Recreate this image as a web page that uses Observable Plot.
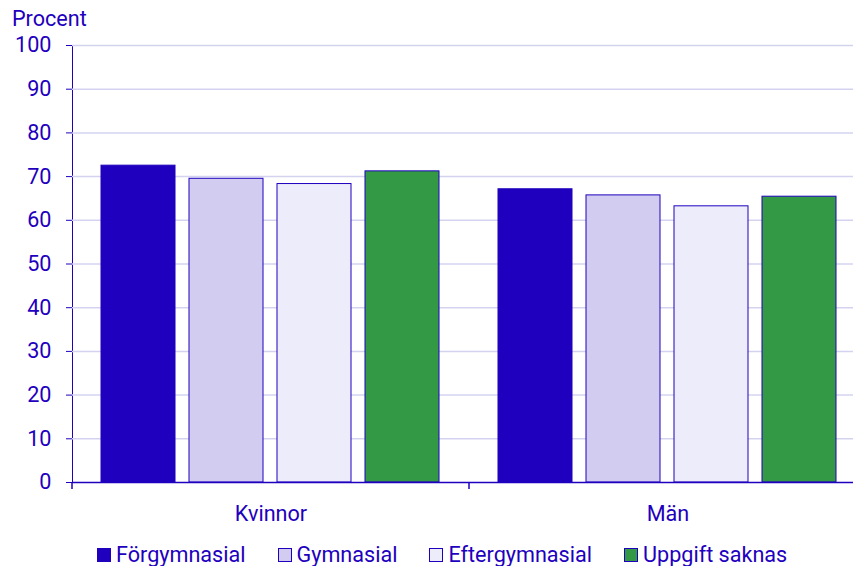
<!DOCTYPE html>
<html><head><meta charset="utf-8">
<script src="https://cdn.jsdelivr.net/npm/d3@7"></script>
<script src="https://cdn.jsdelivr.net/npm/@observablehq/plot@0.6"></script>
<style>
html,body{margin:0;padding:0;background:#fff;overflow:hidden}
#wrap{position:relative;width:853px;height:566px;overflow:hidden;font-family:Roboto,sans-serif;color:#1e00be;background:#fff}
#chart{position:absolute;left:0;top:0}
#ylab{position:absolute;left:12px;top:7px;font-size:21.6px;line-height:24px}
#legend{position:absolute;left:97px;top:545px;display:flex;font-size:21.6px;line-height:20px;white-space:nowrap}
.item{display:flex;align-items:center;margin-right:32px}
.sw{width:12px;height:12px;border:1px solid #1e00be;margin-right:5px;box-sizing:content-box}
</style>
</head><body>
<div id="wrap">
  <div id="chart"></div>
  <div id="ylab">Procent</div>
  <div id="legend"></div>
</div>
<script>
const groups = ["Kvinnor", "Män"];
const categories = ["Förgymnasial", "Gymnasial", "Eftergymnasial", "Uppgift saknas"];
const kvinnor = [72.5, 69.5, 68.3, 71.2];
const man = [67.1, 65.7, 63.2, 65.4];
const colors = ["#1e00be", "#d2cdf0", "#ececfb", "#339944"];
const yTicks = [0, 10, 20, 30, 40, 50, 60, 70, 80, 90, 100];

const ink = "#1e00be";
const rows = [];
[kvinnor, man].forEach((vals, gi) => vals.forEach((v, ci) => rows.push({group: groups[gi], category: categories[ci], value: v})));

const plot = Plot.plot({
  width: 866,
  height: 530,
  marginLeft: 71,
  marginRight: 0,
  marginTop: 45,
  marginBottom: 48,
  style: {fontFamily: "Roboto, sans-serif", fontSize: "21.6px", color: ink, background: "white", overflow: "visible", maxWidth: "none"},
  facet: {data: rows, x: "group", marginRight: 0, marginBottom: 48, marginTop: 45, marginLeft: 71},
  fx: {domain: groups, padding: 0, label: null, axis: "bottom", tickSize: 0, tickPadding: 23},
  x: {domain: categories, paddingInner: 0.157, paddingOuter: 0.31, axis: null},
  y: {domain: [0, 100], ticks: yTicks, tickSize: 6, tickPadding: 15, label: null, line: true},
  color: {domain: categories, range: colors},
  marks: [
    Plot.ruleY(yTicks.slice(1), {stroke: "#d3d3f0", strokeWidth: 1.5}),
    Plot.barY(rows, {x: "category", y: "value", fill: "category", stroke: ink, strokeWidth: 1}),
    Plot.ruleY([0], {stroke: ink, strokeWidth: 1.5})
  ]
});
plot.style.maxWidth = "none";
document.getElementById("chart").appendChild(plot);

// boundary ticks on the category axis, placed with the facet scale
const fx = plot.scale("fx");
const ys = plot.scale("y");
const y0 = ys.apply(0);
const edges = fx.domain.map(d => fx.apply(d));
edges.push(fx.apply(fx.domain[fx.domain.length - 1]) + fx.bandwidth);
d3.select(plot).append("g")
  .attr("stroke", ink).attr("stroke-width", 1.5)
  .selectAll("line").data(edges).join("line")
  .attr("x1", d => d).attr("x2", d => d)
  .attr("y1", y0).attr("y2", y0 + 7);

const legend = d3.select("#legend");
categories.forEach((c, i) => {
  const it = legend.append("div").attr("class", "item");
  it.append("div").attr("class", "sw").style("background", colors[i]);
  it.append("span").text(c);
});
</script>
</body></html>
